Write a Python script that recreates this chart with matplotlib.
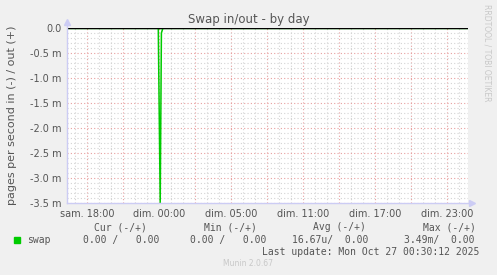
#!/usr/bin/env python3
"""Munin style 'Swap in/out - by day' graph."""

import matplotlib
matplotlib.use('Agg')
import matplotlib.pyplot as plt

# hours since sam. 18:00 (one rrd sample = 5 min)
hours = [-1.667, 5.94, 6.1, 6.2, 6.33, 31.667]
swap_in = [0.0, 0.0, -3.49e-3, -0.10e-3, 0.0, 0.0]   # drawn negative
swap_out = [0.0, 0.0, 0.0, 0.0, 0.0, 0.0]

tick_hours = [0, 6, 12, 18, 24, 30]
tick_labels = ['sam. 18:00', 'dim. 00:00', 'dim. 05:00',
               'dim. 11:00', 'dim. 17:00', 'dim. 23:00']
y_ticks = [0.0, -0.5e-3, -1.0e-3, -1.5e-3, -2.0e-3, -2.5e-3, -3.0e-3, -3.5e-3]
y_labels = ['0.0', '-0.5 m', '-1.0 m', '-1.5 m', '-2.0 m', '-2.5 m', '-3.0 m', '-3.5 m']

legend_head = ['Cur (-/+)', 'Min (-/+)', 'Avg (-/+)', 'Max (-/+)']
legend_vals = ['0.00 /   0.00', '0.00 /   0.00', '16.67u/  0.00', '3.49m/  0.00']

COLORS = {
    'bg': '#f0f0f0',
    'text': '#555555',
    'swap': '#00cc00',
    'axis': '#ccccf4',
    'major': '#e8a0a0',
    'minor': '#d4d4d4',
}

W, H = 497, 275
fig = plt.figure(figsize=(W / 100, H / 100), dpi=100, facecolor=COLORS['bg'])

# plot area in pixels: x 67..467, y 28..203
ax = fig.add_axes([67 / W, 1 - 203 / H, 401 / W, 175 / H])
ax.set_facecolor('white')
ax.set_xlim(-1.667, 31.75)
ax.set_ylim(-3.5e-3, 0.0)

# grid: minor every hour / 0.1 m, major every 3 h / 0.5 m
for h in range(-1, 32):
    major = (h % 3 == 0)
    ax.axvline(h, color=COLORS['major'] if major else COLORS['minor'],
               lw=0.8, ls=(0, (1, 2)), zorder=1)
for i in range(0, 36):
    v = -i * 0.1e-3
    major = (i % 5 == 0)
    ax.axhline(v, color=COLORS['major'] if major else COLORS['minor'],
               lw=0.8, ls=(0, (1, 2)), zorder=1)

# data
ax.plot(hours, swap_in, color=COLORS['swap'], lw=1.1, zorder=3)
ax.plot(hours, swap_out, color=COLORS['swap'], lw=1.0, zorder=3)
ax.axhline(0.0, color='black', lw=1.0, zorder=4)

# axes with arrows
for s in ax.spines.values():
    s.set_visible(False)
ax.plot([0, 0], [0, 1.03], transform=ax.transAxes, color=COLORS['axis'],
        lw=1.0, clip_on=False, zorder=5)
ax.plot([0, 1.005], [0, 0], transform=ax.transAxes, color=COLORS['axis'],
        lw=1.0, clip_on=False, zorder=5)
ax.plot(0, 1.035, marker='^', ms=4, color=COLORS['axis'],
        transform=ax.transAxes, clip_on=False)
ax.plot(1.01, 0, marker='>', ms=4, color=COLORS['axis'],
        transform=ax.transAxes, clip_on=False)

ax.set_xticks(tick_hours)
ax.set_xticklabels(tick_labels, fontsize=7, color=COLORS['text'])
ax.set_yticks(y_ticks)
ax.set_yticklabels(y_labels, fontsize=7, color=COLORS['text'])
ax.tick_params(length=0, pad=4)

# texts
fig.text(249 / W, 1 - 19 / H, 'Swap in/out - by day', ha='center', va='center',
         fontsize=8.5, color=COLORS['text'])
fig.text(12 / W, 1 - 115 / H, 'pages per second in (-) / out (+)', rotation=90,
         ha='center', va='center', fontsize=8, color=COLORS['text'])
fig.text(487 / W, 1 - 53 / H, 'RRDTOOL / TOBI OETIKER', rotation=270,
         ha='center', va='center', fontsize=5.5, color='#c8c8c8')

mono = dict(family='DejaVu Sans Mono', fontsize=7.0, color=COLORS['text'], va='center')
head_x = [94, 204, 313, 423]
val_x = [83, 190, 292, 404]
for x, t in zip(head_x, legend_head):
    fig.text(x / W, 1 - 227.5 / H, t, **mono)
for x, t in zip(val_x, legend_vals):
    fig.text(x / W, 1 - 240 / H, t, **mono)
fig.text(27 / W, 1 - 240 / H, 'swap', **mono)
fig.patches.append(plt.Rectangle((14 / W, 1 - 243 / H), 6 / W, 6 / H,
                                 transform=fig.transFigure, color=COLORS['swap']))
fig.text(262 / W, 1 - 252 / H, 'Last update: Mon Oct 27 00:30:12 2025', **mono)
fig.text(248 / W, 1 - 264 / H, 'Munin 2.0.67', ha='center', va='center',
         fontsize=5.5, color='#c8c8c8')

fig.savefig('out.png', dpi=100, facecolor=COLORS['bg'])
